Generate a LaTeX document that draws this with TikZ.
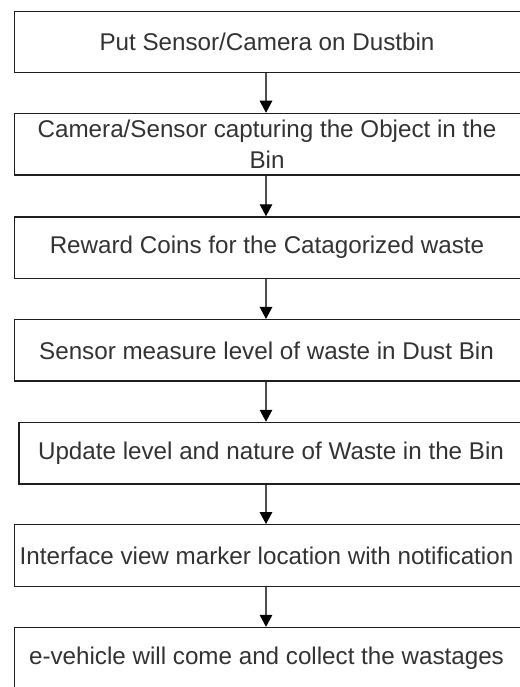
\documentclass[tikz,border=0pt]{standalone}
\usepackage{fontspec}
\setmainfont{Liberation Sans}[Ligatures=NoCommon]
\usetikzlibrary{arrows.meta}
\definecolor{txtgray}{HTML}{333333}
\definecolor{edgegray}{HTML}{1E1E1E}
\definecolor{shaftgray}{HTML}{505050}
\tikzset{
  stepbox/.style={draw=edgegray, line width=1.4pt, rectangle, minimum width=510pt,
    minimum height=61.5pt, inner sep=0pt, anchor=west},
  steptext/.style={text=txtgray, align=center, inner sep=0pt,
    font=\fontsize{24.2}{30.5}\selectfont},
  flowarrow/.style={draw=shaftgray, line width=1.4pt,
    -{Triangle[width=12.5pt,length=12pt,color=black]}}
}
\begin{document}
\begin{tikzpicture}[x=1pt,y=-1pt]
\useasboundingbox (0,0) rectangle (519,687);
\fill[white] (0,0) rectangle (519,687);
% boxes (right edges lie beyond the picture's right margin)
\node[stepbox] (b1) at (14,42) {};
\node[stepbox] (b2) at (14,144.2) {};
\node[stepbox] (b3) at (14,247.7) {};
\node[stepbox] (b4) at (14,350.4) {};
\node[stepbox] (b5) at (18.3,453.2) {};
\node[stepbox] (b6) at (14,555.5) {};
\node[stepbox] (b7) at (14,658.3) {};
% texts
\node[steptext] (t1) at (267,42) {Put Sensor/Camera on Dustbin};
\node[steptext] (t2) at (267,144.2) {Camera/Sensor capturing the Object in the\\Bin};
\node[steptext] (t3) at (267,247.7) {Reward Coins for the Catagorized waste};
\node[steptext] (t4) at (266.5,350.4) {Sensor measure level of waste in Dust Bin};
\node[steptext] (t5) at (271,453.2) {Update level and nature of Waste in the Bin};
\node[steptext] (t6) at (266.5,555.5) {Interface view marker location with notification};
\node[steptext] (t7) at (266.5,658.3) {e-vehicle will come and collect the wastages};
% arrows
\coordinate (ax) at (266,0);
\draw[flowarrow] (ax |- b1.south) -- (ax |- b2.north);
\draw[flowarrow] (ax |- b2.south) -- (ax |- b3.north);
\draw[flowarrow] (ax |- b3.south) -- (ax |- b4.north);
\draw[flowarrow] (ax |- b4.south) -- (ax |- b5.north);
\draw[flowarrow] (ax |- b5.south) -- (ax |- b6.north);
\draw[flowarrow] (ax |- b6.south) -- (ax |- b7.north);
\end{tikzpicture}
\end{document}
